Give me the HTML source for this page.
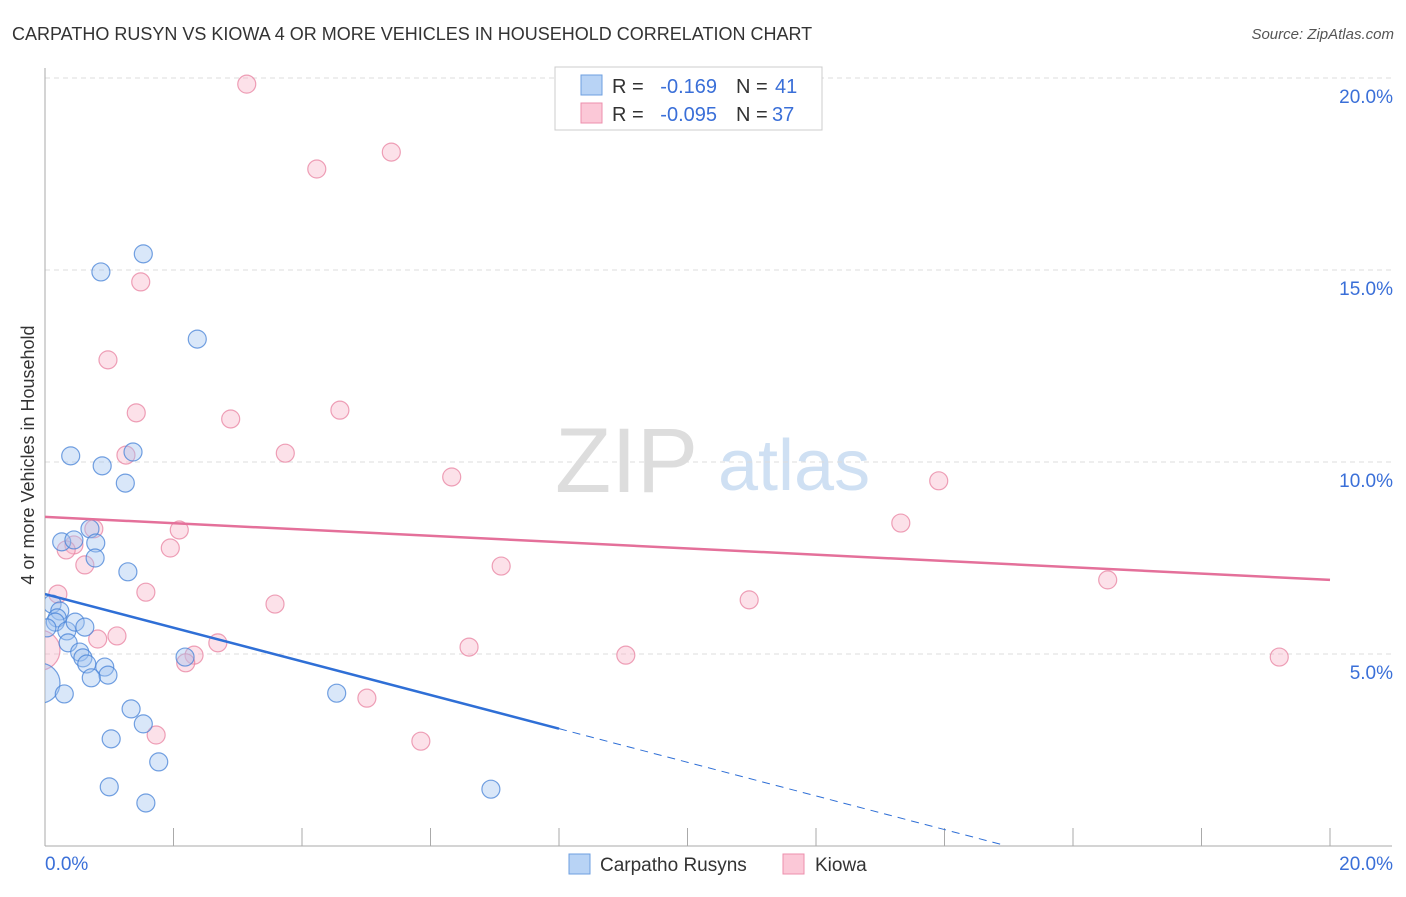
<!DOCTYPE html>
<html><head><meta charset="utf-8"><style>
body{margin:0;background:#fff;font-family:"Liberation Sans",sans-serif;}
svg text{font-family:"Liberation Sans",sans-serif;}
</style></head><body>
<svg id="chart" width="1406" height="892">
<defs><clipPath id="plotclip"><rect x="45" y="60" width="1360" height="786"/></clipPath></defs>
<text x="12" y="40" font-size="18" fill="#333">CARPATHO RUSYN VS KIOWA 4 OR MORE VEHICLES IN HOUSEHOLD CORRELATION CHART</text>
<text x="1394" y="39" font-size="15" fill="#555" font-style="italic" text-anchor="end">Source: ZipAtlas.com</text>
<text x="34" y="455" font-size="18" fill="#333" text-anchor="middle" transform="rotate(-90 34 455)">4 or more Vehicles in Household</text>
<text x="555" y="492" font-size="92" fill="#ddd" font-family="Liberation Serif">ZIP</text>
<text x="718" y="490" font-size="72" fill="#cfe0f3">atlas</text>
<g id="grid"></g><g id="marks" clip-path="url(#plotclip)"></g>
<g>
<rect x="555" y="67" width="267" height="63" fill="#fff" stroke="#ccc"/>
<rect x="581" y="75" width="21" height="20" fill="#b8d3f5" stroke="#6e9fe0"/>
<rect x="581" y="103" width="21" height="20" fill="#fbc8d7" stroke="#ec8fac"/>
<text x="612" y="93" font-size="20" fill="#333">R =</text>
<text x="717" y="93" font-size="20" fill="#3a6fd8" text-anchor="end">-0.169</text>
<text x="736" y="93" font-size="20" fill="#333">N =</text>
<text x="775" y="93" font-size="20" fill="#3a6fd8">41</text>
<text x="612" y="121" font-size="20" fill="#333">R =</text>
<text x="717" y="121" font-size="20" fill="#3a6fd8" text-anchor="end">-0.095</text>
<text x="736" y="121" font-size="20" fill="#333">N =</text>
<text x="772" y="121" font-size="20" fill="#3a6fd8">37</text>
</g>
<g>
<rect x="569" y="854" width="21" height="20" fill="#b8d3f5" stroke="#6e9fe0"/>
<text x="600" y="871" font-size="19" fill="#333">Carpatho Rusyns</text>
<rect x="783" y="854" width="21" height="20" fill="#fbc8d7" stroke="#ec8fac"/>
<text x="815" y="871" font-size="19" fill="#333">Kiowa</text>
</g>
</svg>
<script>
const blueX=[1.53,0.87,2.37,0.40,1.37,0.89,1.25,0.70,0.26,0.45,0.79,0.78,1.29,0.11,0.23,0.19,0.16,0.34,0.47,0.62,0.36,0.54,0.59,0.65,0.93,0.98,0.72,0.0,0.30,4.54,1.34,1.53,1.03,1.77,1.00,1.57,6.94,2.18,0.03];
const blueY=[15.42,14.95,13.20,10.16,10.26,9.90,9.45,8.26,7.92,7.97,7.89,7.50,7.14,6.30,6.12,5.94,5.83,5.60,5.83,5.70,5.29,5.05,4.90,4.74,4.66,4.45,4.38,4.24,3.96,3.98,3.57,3.18,2.79,2.19,1.54,1.12,1.48,4.92,5.68];
const pinkX=[3.14,5.39,4.23,1.49,0.98,1.42,2.89,4.59,3.74,1.26,6.33,13.91,13.32,2.09,0.76,0.45,0.33,1.95,0.62,7.10,1.57,0.20,16.54,3.58,10.96,1.12,0.82,2.69,6.60,2.32,9.04,19.21,2.19,5.01,0.0,1.73,5.85];
const pinkY=[19.84,18.07,17.63,14.69,12.66,11.28,11.12,11.35,10.23,10.18,9.61,9.51,8.41,8.23,8.26,7.84,7.71,7.76,7.32,7.29,6.61,6.56,6.93,6.30,6.41,5.47,5.39,5.29,5.18,4.97,4.97,4.92,4.77,3.85,5.10,2.89,2.73];
const yTicks=[5,10,15,20];
const blueFit=[6.56,-0.438];
const pinkFit=[8.57,-0.082];
const NS="http://www.w3.org/2000/svg";
const X=v=>45+v/20*1285, Y=v=>846-v*38.4;
const grid=document.getElementById('grid'), marks=document.getElementById('marks');
function mk(p,tag,attrs){const e=document.createElementNS(NS,tag);for(const k in attrs)e.setAttribute(k,attrs[k]);p.appendChild(e);return e;}
yTicks.forEach(t=>{
 const l=mk(grid,'line',{x1:45,x2:1392,y1:Y(t),y2:Y(t),stroke:'#ddd','stroke-dasharray':'5,4'});
 
 
 const tx=mk(grid,'text',{x:1393,y:Y(t)+25,'font-size':19,fill:'#3a6fd8','text-anchor':'end'});tx.textContent=t.toFixed(1)+'%';
 
 
});
const ax=mk(grid,'line',{x1:45,x2:45,y1:68,y2:846,stroke:'#aaa'});


const bx=mk(grid,'line',{x1:45,x2:1392,y1:846,y2:846,stroke:'#aaa'});


for(let i=1;i<=10;i++){const tk=mk(grid,'line',{x1:X(i*2),x2:X(i*2),y1:828,y2:846,stroke:'#aaa'});
 
 }
[['0.0%',45,'start'],['20.0%',1393,'end']].forEach(a=>{const t=mk(grid,'text',{x:a[1],y:870,'font-size':19,fill:'#3a6fd8','text-anchor':a[2]});t.textContent=a[0];
 
 });
function pts(xs,ys,fill,stroke,name){xs.forEach((v,i)=>{const big=v===0;const c=mk(marks,'circle',{cx:X(v)-(big?5:0),cy:Y(ys[i]),r:big?20:9,fill:fill,stroke:stroke,'stroke-width':1.2});
 
 });}
pts(pinkX,pinkY,'rgba(248,180,200,0.4)','rgba(232,130,160,0.75)','kiowa-point');
pts(blueX,blueY,'rgba(160,195,240,0.4)','rgba(70,130,215,0.75)','carpatho-rusyn-point');
const pl=mk(marks,'line',{x1:X(0),y1:Y(pinkFit[0]),x2:X(20),y2:Y(pinkFit[0]+pinkFit[1]*20),stroke:'#e4709a','stroke-width':2.5});


const bl=mk(marks,'line',{x1:X(0),y1:Y(blueFit[0]),x2:X(8),y2:Y(blueFit[0]+blueFit[1]*8),stroke:'#2f6fd6','stroke-width':2.5});


const bd=mk(marks,'line',{x1:X(8),y1:Y(blueFit[0]+blueFit[1]*8),x2:X(14.9),y2:Y(blueFit[0]+blueFit[1]*14.9),stroke:'#2f6fd6','stroke-width':1,'stroke-dasharray':'8,6'});


</script>
</body></html>
